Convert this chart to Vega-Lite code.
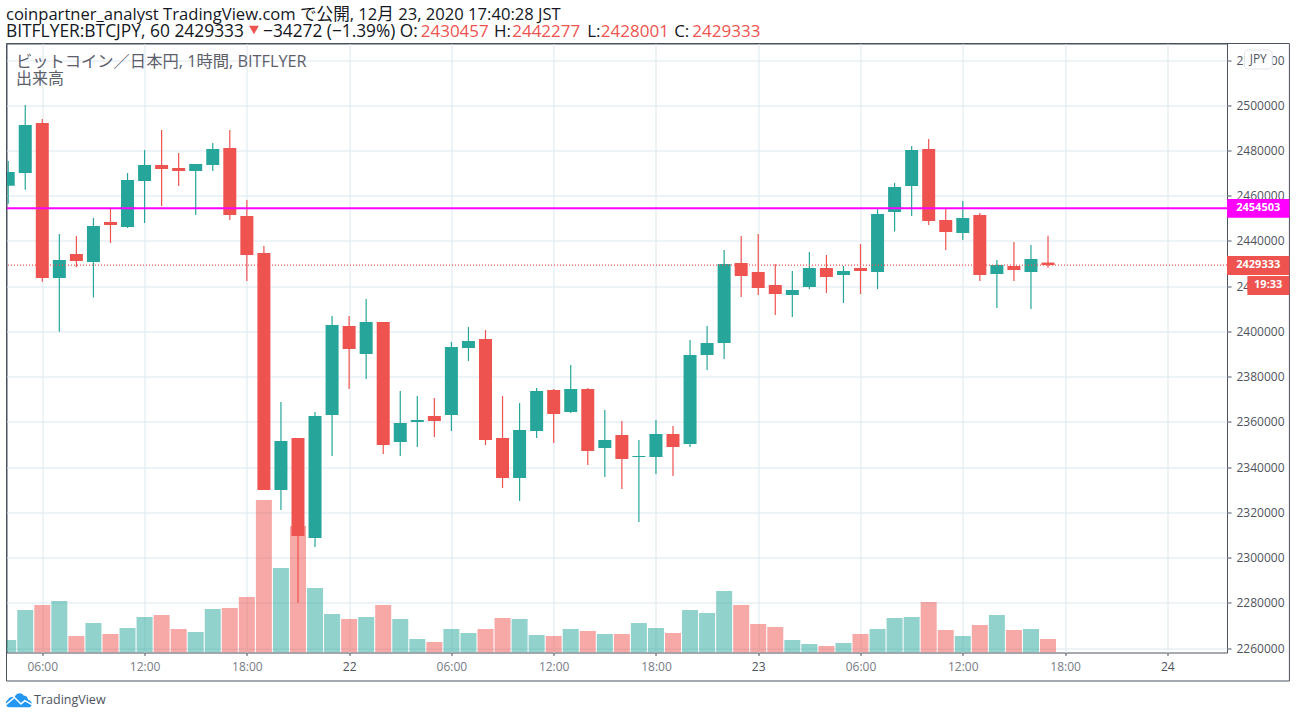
{
  "$schema": "https://vega.github.io/schema/vega-lite/v6.json",
  "width": 1220.5,
  "height": 609,
  "autosize": "none",
  "padding": {"left": 6.5, "top": 43.5, "right": 69, "bottom": 65.5},
  "background": "#ffffff",
  "config": {
    "view": {"stroke": "#4c525e", "strokeWidth": 1},
    "scale": {"continuousPadding": 0},
    "font": "Open Sans, Noto Sans CJK JP",
    "text": {"font": "Open Sans, Noto Sans CJK JP"}
  },
  "datasets": {
    "candles": [
      {"t":"2020-12-21T04:00:00Z","o":2464447,"h":2475370,"l":2456488,"c":2470506,"v":12.5,"dir":"up"},
      {"t":"2020-12-21T05:00:00Z","o":2470064,"h":2500133,"l":2462679,"c":2491289,"v":42.5,"dir":"up"},
      {"t":"2020-12-21T06:00:00Z","o":2492173,"h":2493942,"l":2421996,"c":2423632,"v":47.5,"dir":"down"},
      {"t":"2020-12-21T07:00:00Z","o":2423632,"h":2443089,"l":2399886,"c":2431592,"v":51.5,"dir":"up"},
      {"t":"2020-12-21T08:00:00Z","o":2434245,"h":2442205,"l":2428497,"c":2431150,"v":16.5,"dir":"down"},
      {"t":"2020-12-21T09:00:00Z","o":2430708,"h":2450164,"l":2415021,"c":2446627,"v":29.5,"dir":"up"},
      {"t":"2020-12-21T10:00:00Z","o":2448396,"h":2454454,"l":2439110,"c":2447069,"v":18.5,"dir":"down"},
      {"t":"2020-12-21T11:00:00Z","o":2446185,"h":2470064,"l":2445742,"c":2466968,"v":24.5,"dir":"up"},
      {"t":"2020-12-21T12:00:00Z","o":2466526,"h":2480234,"l":2447954,"c":2473601,"v":35.5,"dir":"up"},
      {"t":"2020-12-21T13:00:00Z","o":2473601,"h":2489078,"l":2455471,"c":2471832,"v":37.5,"dir":"down"},
      {"t":"2020-12-21T14:00:00Z","o":2472274,"h":2478908,"l":2464315,"c":2470948,"v":23.5,"dir":"down"},
      {"t":"2020-12-21T15:00:00Z","o":2470948,"h":2474043,"l":2451491,"c":2474043,"v":20.5,"dir":"up"},
      {"t":"2020-12-21T16:00:00Z","o":2473601,"h":2483329,"l":2470948,"c":2480676,"v":43.5,"dir":"up"},
      {"t":"2020-12-21T17:00:00Z","o":2481118,"h":2489078,"l":2449280,"c":2451491,"v":44.5,"dir":"down"},
      {"t":"2020-12-21T18:00:00Z","o":2451049,"h":2458124,"l":2422306,"c":2433803,"v":55.5,"dir":"down"},
      {"t":"2020-12-21T19:00:00Z","o":2434687,"h":2437782,"l":2329886,"c":2329886,"v":152.5,"dir":"down"},
      {"t":"2020-12-21T20:00:00Z","o":2329886,"h":2368800,"l":2321042,"c":2351554,"v":84.5,"dir":"up"},
      {"t":"2020-12-21T21:00:00Z","o":2352880,"h":2352880,"l":2279917,"c":2309545,"v":126.5,"dir":"down"},
      {"t":"2020-12-21T22:00:00Z","o":2308661,"h":2364378,"l":2304681,"c":2362609,"v":64.5,"dir":"up"},
      {"t":"2020-12-21T23:00:00Z","o":2363051,"h":2406829,"l":2344921,"c":2402849,"v":38.5,"dir":"up"},
      {"t":"2020-12-22T00:00:00Z","o":2402407,"h":2406829,"l":2374548,"c":2392236,"v":33.5,"dir":"down"},
      {"t":"2020-12-22T01:00:00Z","o":2390025,"h":2414346,"l":2378970,"c":2404176,"v":35.5,"dir":"up"},
      {"t":"2020-12-22T02:00:00Z","o":2404176,"h":2404176,"l":2345805,"c":2349785,"v":47.5,"dir":"down"},
      {"t":"2020-12-22T03:00:00Z","o":2351112,"h":2373664,"l":2344921,"c":2359513,"v":33.5,"dir":"up"},
      {"t":"2020-12-22T04:00:00Z","o":2359956,"h":2371453,"l":2348901,"c":2360840,"v":13.5,"dir":"up"},
      {"t":"2020-12-22T05:00:00Z","o":2362609,"h":2370569,"l":2353322,"c":2360398,"v":10.5,"dir":"down"},
      {"t":"2020-12-22T06:00:00Z","o":2363051,"h":2395332,"l":2355976,"c":2393121,"v":23.5,"dir":"up"},
      {"t":"2020-12-22T07:00:00Z","o":2392678,"h":2401965,"l":2386930,"c":2395774,"v":19.5,"dir":"up"},
      {"t":"2020-12-22T08:00:00Z","o":2396658,"h":2400638,"l":2349785,"c":2351996,"v":23.5,"dir":"down"},
      {"t":"2020-12-22T09:00:00Z","o":2352880,"h":2371453,"l":2330770,"c":2335192,"v":34.5,"dir":"down"},
      {"t":"2020-12-22T10:00:00Z","o":2335192,"h":2368357,"l":2325022,"c":2356418,"v":33.5,"dir":"up"},
      {"t":"2020-12-22T11:00:00Z","o":2355976,"h":2374990,"l":2352880,"c":2373664,"v":17.5,"dir":"up"},
      {"t":"2020-12-22T12:00:00Z","o":2374106,"h":2374548,"l":2350670,"c":2363493,"v":16.5,"dir":"down"},
      {"t":"2020-12-22T13:00:00Z","o":2364378,"h":2385161,"l":2363935,"c":2374548,"v":23.5,"dir":"up"},
      {"t":"2020-12-22T14:00:00Z","o":2374548,"h":2374990,"l":2340941,"c":2347132,"v":21.5,"dir":"down"},
      {"t":"2020-12-22T15:00:00Z","o":2348459,"h":2365262,"l":2335634,"c":2351996,"v":18.5,"dir":"up"},
      {"t":"2020-12-22T16:00:00Z","o":2354215,"h":2360398,"l":2330328,"c":2343594,"v":18.5,"dir":"down"},
      {"t":"2020-12-22T17:00:00Z","o":2344479,"h":2351996,"l":2315736,"c":2344921,"v":29.5,"dir":"up"},
      {"t":"2020-12-22T18:00:00Z","o":2344479,"h":2360840,"l":2336960,"c":2354657,"v":24.5,"dir":"up"},
      {"t":"2020-12-22T19:00:00Z","o":2354657,"h":2358187,"l":2336076,"c":2348901,"v":19.5,"dir":"down"},
      {"t":"2020-12-22T20:00:00Z","o":2350228,"h":2396216,"l":2348901,"c":2389583,"v":42.5,"dir":"up"},
      {"t":"2020-12-22T21:00:00Z","o":2389583,"h":2402407,"l":2382950,"c":2394889,"v":39.5,"dir":"up"},
      {"t":"2020-12-22T22:00:00Z","o":2394889,"h":2436014,"l":2387814,"c":2429823,"v":61.5,"dir":"up"},
      {"t":"2020-12-22T23:00:00Z","o":2430265,"h":2442205,"l":2415231,"c":2424516,"v":47.5,"dir":"down"},
      {"t":"2020-12-23T00:00:00Z","o":2426286,"h":2443089,"l":2416115,"c":2419210,"v":28.5,"dir":"down"},
      {"t":"2020-12-23T01:00:00Z","o":2420537,"h":2429823,"l":2407271,"c":2416557,"v":25.5,"dir":"down"},
      {"t":"2020-12-23T02:00:00Z","o":2416115,"h":2426728,"l":2406387,"c":2418326,"v":12.5,"dir":"up"},
      {"t":"2020-12-23T03:00:00Z","o":2419653,"h":2435129,"l":2418768,"c":2428055,"v":8.5,"dir":"up"},
      {"t":"2020-12-23T04:00:00Z","o":2428055,"h":2433803,"l":2416999,"c":2424074,"v":6.5,"dir":"down"},
      {"t":"2020-12-23T05:00:00Z","o":2424958,"h":2428939,"l":2412577,"c":2426728,"v":9.5,"dir":"up"},
      {"t":"2020-12-23T06:00:00Z","o":2428055,"h":2438668,"l":2416557,"c":2426728,"v":18.5,"dir":"down"},
      {"t":"2020-12-23T07:00:00Z","o":2426286,"h":2454144,"l":2418768,"c":2451933,"v":23.5,"dir":"up"},
      {"t":"2020-12-23T08:00:00Z","o":2452818,"h":2465642,"l":2444196,"c":2463873,"v":34.5,"dir":"up"},
      {"t":"2020-12-23T09:00:00Z","o":2464315,"h":2482003,"l":2451049,"c":2480234,"v":35.5,"dir":"up"},
      {"t":"2020-12-23T10:00:00Z","o":2480676,"h":2485098,"l":2447069,"c":2448838,"v":50.5,"dir":"down"},
      {"t":"2020-12-23T11:00:00Z","o":2449280,"h":2454144,"l":2436014,"c":2443974,"v":22.5,"dir":"down"},
      {"t":"2020-12-23T12:00:00Z","o":2443531,"h":2457682,"l":2440436,"c":2450164,"v":16.5,"dir":"up"},
      {"t":"2020-12-23T13:00:00Z","o":2451491,"h":2452376,"l":2422306,"c":2424958,"v":27.5,"dir":"down"},
      {"t":"2020-12-23T14:00:00Z","o":2425401,"h":2431592,"l":2410366,"c":2429381,"v":37.5,"dir":"up"},
      {"t":"2020-12-23T15:00:00Z","o":2428939,"h":2439552,"l":2422306,"c":2427170,"v":22.5,"dir":"down"},
      {"t":"2020-12-23T16:00:00Z","o":2426286,"h":2438211,"l":2409924,"c":2432035,"v":23.5,"dir":"up"},
      {"t":"2020-12-23T17:00:00Z","o":2430457,"h":2442277,"l":2428001,"c":2429333,"v":13.5,"dir":"down"}
    ]
  },
  "resolve": {"scale": {"y": "independent"}, "axis": {"x": "independent"}},
  "layer": [
    {
      "data": {"name": "candles"},
      "mark": {"type": "bar", "size": 16, "opacity": 0.5, "clip": true},
      "encoding": {
        "x": {
          "field": "t",
          "type": "temporal",
          "title": null,
          "scale": {"type": "utc", "domain": ["2020-12-21T03:54:00Z", "2020-12-24T03:30:00Z"]},
          "axis": {
            "values": [
              {"year": 2020, "month": 12, "date": 21, "hours": 6, "utc": true},
              {"year": 2020, "month": 12, "date": 21, "hours": 12, "utc": true},
              {"year": 2020, "month": 12, "date": 21, "hours": 18, "utc": true},
              {"year": 2020, "month": 12, "date": 22, "hours": 0, "utc": true},
              {"year": 2020, "month": 12, "date": 22, "hours": 6, "utc": true},
              {"year": 2020, "month": 12, "date": 22, "hours": 12, "utc": true},
              {"year": 2020, "month": 12, "date": 22, "hours": 18, "utc": true},
              {"year": 2020, "month": 12, "date": 23, "hours": 0, "utc": true},
              {"year": 2020, "month": 12, "date": 23, "hours": 6, "utc": true},
              {"year": 2020, "month": 12, "date": 23, "hours": 12, "utc": true},
              {"year": 2020, "month": 12, "date": 23, "hours": 18, "utc": true},
              {"year": 2020, "month": 12, "date": 24, "hours": 0, "utc": true}
            ],
            "labelExpr": "utchours(datum.value) == 0 ? utcFormat(datum.value, '%-d') : utcFormat(datum.value, '%H:%M')",
            "labelColor": {"condition": {"test": "utchours(datum.value) == 0", "value": "#4c525e"}, "value": "#787b86"},
            "labelFontSize": 12,
            "labelPadding": 6,
            "labelFlush": false,
            "labelOverlap": false,
            "grid": true,
            "gridColor": "#dbe8f0",
            "gridOpacity": 1,
            "gridWidth": 1,
            "domain": false,
            "tickColor": "#4c525e",
            "tickSize": 3
          }
        },
        "y": {"field": "v", "type": "quantitative", "stack": null, "axis": null, "scale": {"domain": [0, 609]}},
        "color": {"field": "dir", "type": "nominal", "legend": null, "scale": {"domain": ["up", "down"], "range": ["#26a69a", "#ef5350"]}}
      }
    },
    {
      "resolve": {"axis": {"x": "independent", "y": "independent"}},
      "layer": [
        {
          "data": {"name": "candles"},
          "mark": {"type": "rule", "strokeWidth": 1.2, "clip": true},
          "encoding": {
            "x": {"field": "t", "type": "temporal", "axis": null},
            "y": {
              "field": "l",
              "type": "quantitative",
              "title": null,
              "scale": {"domain": [2258028, 2527328], "nice": false, "zero": false},
              "axis": {
                "orient": "right",
                "values": [2260000, 2280000, 2300000, 2320000, 2340000, 2360000, 2380000, 2400000, 2420000, 2440000, 2460000, 2480000, 2500000, 2520000],
                "format": "d",
                "labelColor": "#50535e",
                "labelFontSize": 12,
                "labelPadding": 5,
                "labelFlush": false,
                "labelOverlap": false,
                "grid": true,
                "gridColor": "#dbe8f0",
                "gridOpacity": 1,
                "gridWidth": 1,
                "domain": false,
                "tickColor": "#4c525e",
                "tickSize": 4
              }
            },
            "y2": {"field": "h"},
            "color": {"field": "dir", "type": "nominal", "legend": null}
          }
        },
        {
          "data": {"name": "candles"},
          "mark": {"type": "bar", "size": 13, "clip": true},
          "encoding": {
            "x": {"field": "t", "type": "temporal", "axis": null},
            "y": {"field": "o", "type": "quantitative", "axis": null},
            "y2": {"field": "c"},
            "color": {"field": "dir", "type": "nominal", "legend": null}
          }
        },
        {
          "data": {"values": [{"price": 2429333}]},
          "mark": {"type": "rule", "color": "#ef5350", "strokeWidth": 1.3, "strokeDash": [1, 2]},
          "encoding": {"y": {"field": "price", "type": "quantitative", "axis": null}}
        },
        {
          "data": {"values": [{"price": 2454503}]},
          "mark": {"type": "rule", "color": "#ff00ff", "strokeWidth": 2},
          "encoding": {"y": {"field": "price", "type": "quantitative", "axis": null}}
        },
        {
          "data": {"values": [{"tag": "frame"}]},
          "mark": {"type": "rect", "fill": "transparent", "stroke": "#4c525e", "strokeWidth": 1},
          "encoding": {
            "x": {"datum": {"year": 2020, "month": 12, "date": 21, "hours": 3, "minutes": 54, "utc": true}, "type": "temporal", "axis": null},
            "x2": {"datum": {"year": 2020, "month": 12, "date": 24, "hours": 7, "minutes": 9, "seconds": 42, "utc": true}},
            "y": {"datum": 2527328, "type": "quantitative", "axis": null},
            "y2": {"datum": 2245425}
          }
        },
        {
          "data": {"values": [{"tag": "jpy"}]},
          "mark": {"type": "rect", "fill": "#ffffff", "stroke": "#e0e3eb", "strokeWidth": 1, "cornerRadius": 4},
          "encoding": {
            "x": {"datum": {"year": 2020, "month": 12, "date": 24, "hours": 4, "minutes": 31, "utc": true}, "type": "temporal", "axis": null},
            "x2": {"datum": {"year": 2020, "month": 12, "date": 24, "hours": 6, "minutes": 9, "utc": true}},
            "y": {"datum": 2524454, "type": "quantitative", "axis": null},
            "y2": {"datum": 2516052}
          }
        },
        {
          "data": {"values": [{"tag": "line"}]},
          "mark": {"type": "rect", "fill": "#ff00ff"},
          "encoding": {
            "x": {"datum": {"year": 2020, "month": 12, "date": 24, "hours": 3, "minutes": 30, "utc": true}, "type": "temporal", "axis": null},
            "x2": {"datum": {"year": 2020, "month": 12, "date": 24, "hours": 7, "minutes": 9, "seconds": 42, "utc": true}},
            "y": {"datum": 2458566, "type": "quantitative", "axis": null},
            "y2": {"datum": 2450296}
          }
        },
        {
          "data": {"values": [{"tag": "last"}]},
          "mark": {"type": "rect", "fill": "#ef5350"},
          "encoding": {
            "x": {"datum": {"year": 2020, "month": 12, "date": 24, "hours": 3, "minutes": 30, "utc": true}, "type": "temporal", "axis": null},
            "x2": {"datum": {"year": 2020, "month": 12, "date": 24, "hours": 7, "minutes": 9, "seconds": 42, "utc": true}},
            "y": {"datum": 2433361, "type": "quantitative", "axis": null},
            "y2": {"datum": 2424958}
          }
        },
        {
          "data": {"values": [{"tag": "countdown"}]},
          "mark": {"type": "rect", "fill": "#ef5350"},
          "encoding": {
            "x": {"datum": {"year": 2020, "month": 12, "date": 24, "hours": 4, "minutes": 41, "seconds": 48, "utc": true}, "type": "temporal", "axis": null},
            "x2": {"datum": {"year": 2020, "month": 12, "date": 24, "hours": 7, "minutes": 9, "seconds": 42, "utc": true}},
            "y": {"datum": 2424516, "type": "quantitative", "axis": null},
            "y2": {"datum": 2416115}
          }
        },
        {
          "data": {"values": [{"label": "JPY"}]},
          "mark": {"type": "text", "fontSize": 12, "color": "#50535e"},
          "encoding": {
            "x": {"datum": {"year": 2020, "month": 12, "date": 24, "hours": 5, "minutes": 20, "utc": true}, "type": "temporal", "axis": null},
            "y": {"datum": 2520474, "type": "quantitative", "axis": null},
            "text": {"field": "label"}
          }
        },
        {
          "data": {"values": [{"label": "2454503"}]},
          "mark": {"type": "text", "fontSize": 11, "fontWeight": "bold", "color": "#ffffff"},
          "encoding": {
            "x": {"datum": {"year": 2020, "month": 12, "date": 24, "hours": 5, "minutes": 20, "utc": true}, "type": "temporal", "axis": null},
            "y": {"datum": 2454503, "type": "quantitative", "axis": null},
            "text": {"field": "label"}
          }
        },
        {
          "data": {"values": [{"label": "2429333"}]},
          "mark": {"type": "text", "fontSize": 11, "fontWeight": "bold", "color": "#ffffff"},
          "encoding": {
            "x": {"datum": {"year": 2020, "month": 12, "date": 24, "hours": 5, "minutes": 20, "utc": true}, "type": "temporal", "axis": null},
            "y": {"datum": 2429333, "type": "quantitative", "axis": null},
            "text": {"field": "label"}
          }
        },
        {
          "data": {"values": [{"label": "19:33"}]},
          "mark": {"type": "text", "fontSize": 11, "fontWeight": "bold", "color": "#ffffff"},
          "encoding": {
            "x": {"datum": {"year": 2020, "month": 12, "date": 24, "hours": 5, "minutes": 55, "utc": true}, "type": "temporal", "axis": null},
            "y": {"datum": 2420316, "type": "quantitative", "axis": null},
            "text": {"field": "label"}
          }
        },
        {
          "data": {"values": [{"label": "ビットコイン／日本円, 1時間, BITFLYER"}]},
          "mark": {"type": "text", "align": "left", "fontSize": 16.3, "color": "#5d606b"},
          "encoding": {
            "x": {"datum": {"year": 2020, "month": 12, "date": 21, "hours": 4, "minutes": 27, "utc": true}, "type": "temporal", "axis": null},
            "y": {"datum": 2519147, "type": "quantitative", "axis": null},
            "text": {"field": "label"}
          }
        },
        {
          "data": {"values": [{"label": "出来高"}]},
          "mark": {"type": "text", "align": "left", "fontSize": 16, "color": "#5d606b"},
          "encoding": {
            "x": {"datum": {"year": 2020, "month": 12, "date": 21, "hours": 4, "minutes": 27, "utc": true}, "type": "temporal", "axis": null},
            "y": {"datum": 2511630, "type": "quantitative", "axis": null},
            "text": {"field": "label"}
          }
        },
        {
          "data": {"values": [{"label": "coinpartner_analyst TradingView.com で公開, 12月 23, 2020 17:40:28 JST"}]},
          "mark": {"type": "text", "align": "left", "fontSize": 16.6, "color": "#131722"},
          "encoding": {
            "x": {"datum": {"year": 2020, "month": 12, "date": 21, "hours": 3, "minutes": 52, "utc": true}, "type": "temporal", "axis": null},
            "y": {"datum": 2539931, "type": "quantitative", "axis": null},
            "text": {"field": "label"}
          }
        },
        {
          "data": {"values": [{"label": "BITFLYER:BTCJPY, 60 2429333"}]},
          "mark": {"type": "text", "align": "left", "fontSize": 17.4, "color": "#131722"},
          "encoding": {
            "x": {"datum": {"year": 2020, "month": 12, "date": 21, "hours": 3, "minutes": 52, "utc": true}, "type": "temporal", "axis": null},
            "y": {"datum": 2532413, "type": "quantitative", "axis": null},
            "text": {"field": "label"}
          }
        },
        {
          "data": {"values": [{"tag": "down"}]},
          "mark": {"type": "point", "shape": "triangle-down", "filled": true, "size": 95, "color": "#ef5350", "opacity": 1},
          "encoding": {
            "x": {"datum": {"year": 2020, "month": 12, "date": 21, "hours": 18, "minutes": 25, "utc": true}, "type": "temporal", "axis": null},
            "y": {"datum": 2533300, "type": "quantitative", "axis": null}
          }
        },
        {
          "data": {"values": [{"label": "−34272 (−1.39%) O:"}]},
          "mark": {"type": "text", "align": "left", "fontSize": 17.3, "color": "#131722"},
          "encoding": {
            "x": {"datum": {"year": 2020, "month": 12, "date": 21, "hours": 18, "minutes": 57, "utc": true}, "type": "temporal", "axis": null},
            "y": {"datum": 2532413, "type": "quantitative", "axis": null},
            "text": {"field": "label"}
          }
        },
        {
          "data": {"values": [{"label": "2430457"}]},
          "mark": {"type": "text", "align": "left", "fontSize": 17, "color": "#ef5350"},
          "encoding": {
            "x": {"datum": {"year": 2020, "month": 12, "date": 22, "hours": 4, "minutes": 12, "utc": true}, "type": "temporal", "axis": null},
            "y": {"datum": 2532413, "type": "quantitative", "axis": null},
            "text": {"field": "label"}
          }
        },
        {
          "data": {"values": [{"label": "H:"}]},
          "mark": {"type": "text", "align": "left", "fontSize": 17, "color": "#131722"},
          "encoding": {
            "x": {"datum": {"year": 2020, "month": 12, "date": 22, "hours": 8, "minutes": 30, "utc": true}, "type": "temporal", "axis": null},
            "y": {"datum": 2532413, "type": "quantitative", "axis": null},
            "text": {"field": "label"}
          }
        },
        {
          "data": {"values": [{"label": "2442277"}]},
          "mark": {"type": "text", "align": "left", "fontSize": 17, "color": "#ef5350"},
          "encoding": {
            "x": {"datum": {"year": 2020, "month": 12, "date": 22, "hours": 9, "minutes": 34, "utc": true}, "type": "temporal", "axis": null},
            "y": {"datum": 2532413, "type": "quantitative", "axis": null},
            "text": {"field": "label"}
          }
        },
        {
          "data": {"values": [{"label": "L:"}]},
          "mark": {"type": "text", "align": "left", "fontSize": 17, "color": "#131722"},
          "encoding": {
            "x": {"datum": {"year": 2020, "month": 12, "date": 22, "hours": 13, "minutes": 58, "utc": true}, "type": "temporal", "axis": null},
            "y": {"datum": 2532413, "type": "quantitative", "axis": null},
            "text": {"field": "label"}
          }
        },
        {
          "data": {"values": [{"label": "2428001"}]},
          "mark": {"type": "text", "align": "left", "fontSize": 17, "color": "#ef5350"},
          "encoding": {
            "x": {"datum": {"year": 2020, "month": 12, "date": 22, "hours": 14, "minutes": 46, "utc": true}, "type": "temporal", "axis": null},
            "y": {"datum": 2532413, "type": "quantitative", "axis": null},
            "text": {"field": "label"}
          }
        },
        {
          "data": {"values": [{"label": "C:"}]},
          "mark": {"type": "text", "align": "left", "fontSize": 17, "color": "#131722"},
          "encoding": {
            "x": {"datum": {"year": 2020, "month": 12, "date": 22, "hours": 19, "minutes": 4, "utc": true}, "type": "temporal", "axis": null},
            "y": {"datum": 2532413, "type": "quantitative", "axis": null},
            "text": {"field": "label"}
          }
        },
        {
          "data": {"values": [{"label": "2429333"}]},
          "mark": {"type": "text", "align": "left", "fontSize": 17, "color": "#ef5350"},
          "encoding": {
            "x": {"datum": {"year": 2020, "month": 12, "date": 22, "hours": 20, "minutes": 8, "utc": true}, "type": "temporal", "axis": null},
            "y": {"datum": 2532413, "type": "quantitative", "axis": null},
            "text": {"field": "label"}
          }
        },
        {
          "data": {"values": [{"tag": "logo"}]},
          "mark": {"type": "point", "filled": true, "size": 676, "color": "#2196f3", "opacity": 1, "shape": "M-0.75 0.55 C-1.05 0.55 -1.1 0.1 -0.85 -0.02 C-0.75 -0.3 -0.45 -0.25 -0.35 -0.2 C-0.25 -0.55 0.2 -0.65 0.35 -0.35 C0.6 -0.35 0.7 -0.1 0.7 0 C1.0 0 1.1 0.5 0.8 0.55 Z"},
          "encoding": {
            "x": {"datum": {"year": 2020, "month": 12, "date": 21, "hours": 4, "minutes": 38, "utc": true}, "type": "temporal", "axis": null},
            "y": {"datum": 2237021, "type": "quantitative", "axis": null}
          }
        },
        {
          "data": {"values": [{"tag": "logo"}]},
          "mark": {"type": "point", "filled": false, "size": 676, "stroke": "#ffffff", "strokeWidth": 1.5, "opacity": 1, "shape": "M-1 0.35 L-0.35 -0.2 L0.15 0.3 L0.45 0.05 L1 0.35"},
          "encoding": {
            "x": {"datum": {"year": 2020, "month": 12, "date": 21, "hours": 4, "minutes": 38, "utc": true}, "type": "temporal", "axis": null},
            "y": {"datum": 2237021, "type": "quantitative", "axis": null}
          }
        },
        {
          "data": {"values": [{"label": "TradingView"}]},
          "mark": {"type": "text", "align": "left", "fontSize": 12.5, "color": "#4c525e"},
          "encoding": {
            "x": {"datum": {"year": 2020, "month": 12, "date": 21, "hours": 5, "minutes": 31, "utc": true}, "type": "temporal", "axis": null},
            "y": {"datum": 2237021, "type": "quantitative", "axis": null},
            "text": {"field": "label"}
          }
        }
      ]
    }
  ]
}
